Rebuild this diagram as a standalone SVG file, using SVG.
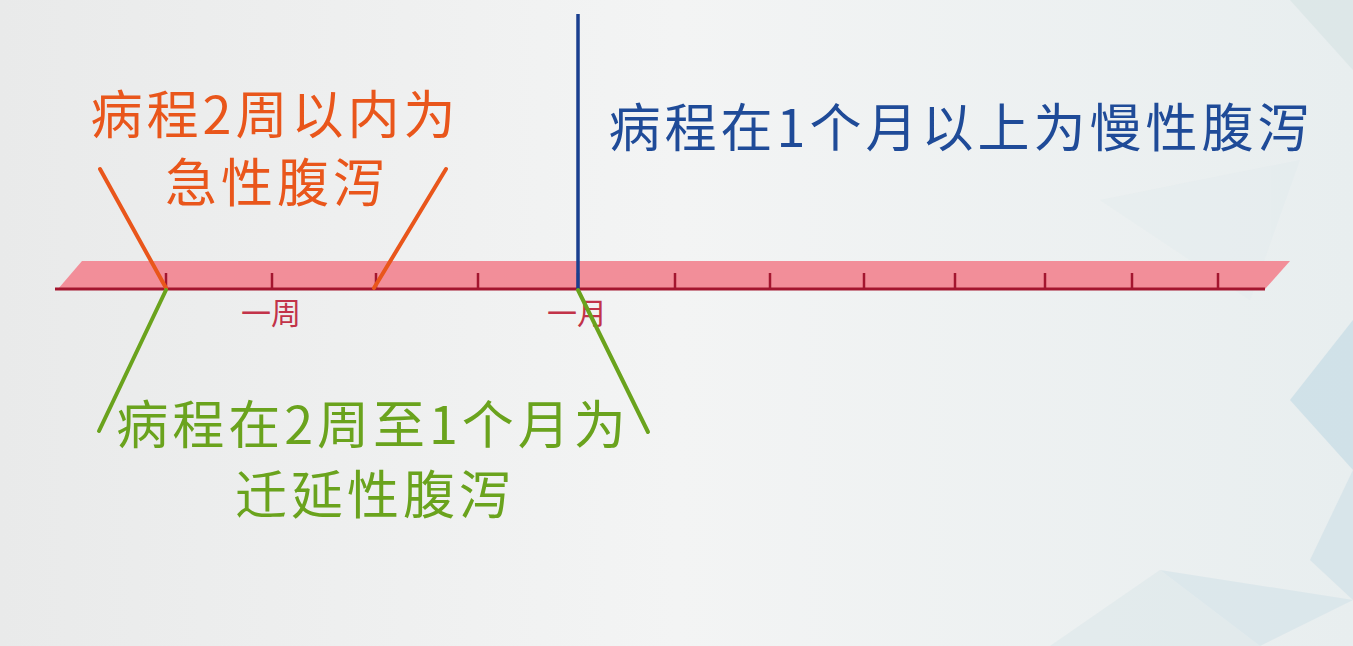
<svg xmlns="http://www.w3.org/2000/svg" width="1353" height="646" viewBox="0 0 1353 646">
  <defs>
    <linearGradient id="bg" x1="0" y1="0" x2="1" y2="0">
      <stop offset="0" stop-color="#e9eaea"/>
      <stop offset="0.5" stop-color="#f3f4f4"/>
      <stop offset="1" stop-color="#e8eeef"/>
    </linearGradient>
    <style>
      text { font-family: "Noto Sans CJK SC", "Noto Sans", sans-serif; }
      .big { font-size: 52px; letter-spacing: 4px; }
      .orange { fill: #e9561b; }
      .green { fill: #6aa31d; }
      .blue { fill: #1f4b98; }
      .tick-label { fill: #c23349; font-size: 30px; }
      .tick { stroke: #a3162f; stroke-width: 2.5; }
      .ol { stroke: #e9561b; stroke-width: 4; stroke-linecap: round; }
      .gl { stroke: #6aa31d; stroke-width: 4; stroke-linecap: round; }
    </style>
  </defs>
  <rect width="1353" height="646" fill="url(#bg)"/>
  <g id="background-shapes" opacity="0.5">
    <polygon points="1290,0 1353,0 1353,70" fill="#d3e2e2"/>
    <polygon points="1353,320 1353,470 1290,400" fill="#b9d6e3"/>
    <polygon points="1353,470 1353,600 1310,560" fill="#c9dde6"/>
    <polygon points="1050,646 1160,570 1260,646" fill="#dbe7ea"/>
    <polygon points="1160,570 1353,600 1260,646" fill="#cfe1e8"/>
    <polygon points="1100,200 1300,160 1250,300" fill="#e3ecee"/>
  </g>
  <g id="timeline">
    <polygon points="82,261 1290,261 1265,289 58,289" fill="#f28e99"/>
    <line x1="55" y1="289" x2="1265" y2="289" stroke="#a3162f" stroke-width="3"/>
    <g class="ticks">
      <line class="tick" x1="166" y1="273" x2="166" y2="289"/>
      <line class="tick" x1="272" y1="273" x2="272" y2="289"/>
      <line class="tick" x1="376" y1="273" x2="376" y2="289"/>
      <line class="tick" x1="478" y1="273" x2="478" y2="289"/>
      <line class="tick" x1="578" y1="273" x2="578" y2="289"/>
      <line class="tick" x1="675" y1="273" x2="675" y2="289"/>
      <line class="tick" x1="770" y1="273" x2="770" y2="289"/>
      <line class="tick" x1="864" y1="273" x2="864" y2="289"/>
      <line class="tick" x1="955" y1="273" x2="955" y2="289"/>
      <line class="tick" x1="1045" y1="273" x2="1045" y2="289"/>
      <line class="tick" x1="1132" y1="273" x2="1132" y2="289"/>
      <line class="tick" x1="1218" y1="273" x2="1218" y2="289"/>
    </g>
    <text class="tick-label" x="271" y="324" text-anchor="middle">一周</text>
    <text class="tick-label" x="577" y="324" text-anchor="middle">一月</text>
  </g>
  <g id="connectors">
    <line x1="578" y1="14" x2="578" y2="289" stroke="#1a3f8f" stroke-width="3.5"/>
    <line class="ol" x1="100" y1="169" x2="166" y2="288"/>
    <line class="ol" x1="446" y1="169" x2="374" y2="288"/>
    <line class="gl" x1="166" y1="290" x2="99" y2="431"/>
    <line class="gl" x1="578" y1="290" x2="648" y2="432"/>
  </g>
  <g id="acute">
    <text class="big orange" x="275" y="134" text-anchor="middle">病程2周以内为</text>
    <text class="big orange" x="277" y="202" text-anchor="middle">急性腹泻</text>
  </g>
  <g id="chronic">
    <text class="big blue" x="961" y="147" text-anchor="middle">病程在1个月以上为慢性腹泻</text>
  </g>
  <g id="persistent">
    <text class="big green" x="373" y="444" text-anchor="middle">病程在2周至1个月为</text>
    <text class="big green" x="375" y="514" text-anchor="middle">迁延性腹泻</text>
  </g>
</svg>
